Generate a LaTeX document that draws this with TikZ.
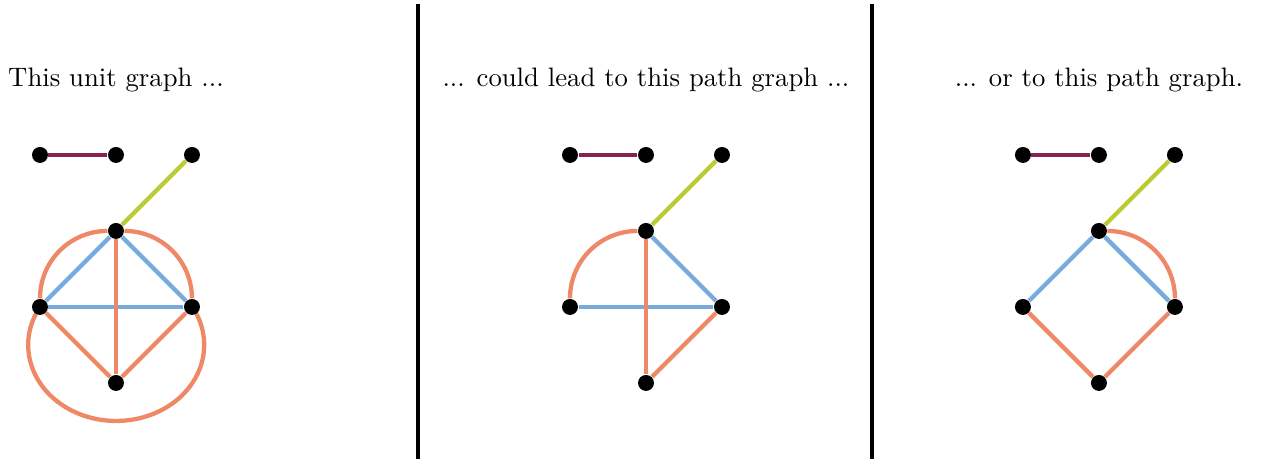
\documentclass[tikz,border=0pt]{standalone}
\usepackage{tikz}
\usetikzlibrary{positioning, calc, backgrounds}
\definecolor{wine}{HTML}{882255}
\definecolor{olive}{HTML}{BBCC33}
\definecolor{skyblue}{HTML}{77AADD}
\definecolor{salmon}{HTML}{EE8866}

\begin{document}
\begin{tikzpicture}[
    dot/.style={circle, fill=black, inner sep=0pt, minimum size=0.21cm},
    edg/.style={ultra thick},
    sep/.style={ultra thick, black},
    lbl/.style={font=\normalsize, inner sep=0pt}
]
\useasboundingbox (0,0) rectangle (16.632,-6.039);

% Sommets des trois graphes
\foreach \p/\dx in {a/0, b/6.974, c/12.934} {
    \node[dot] (\p1) at (0.526+\dx,-2.039) {};
    \node[dot] (\p2) at (1.526+\dx,-2.039) {};
    \node[dot] (\p3) at (2.526+\dx,-2.039) {};
    \node[dot] (\p4) at (1.526+\dx,-3.039) {};
    \node[dot] (\p5) at (0.526+\dx,-4.039) {};
    \node[dot] (\p6) at (2.526+\dx,-4.039) {};
    \node[dot] (\p7) at (1.526+\dx,-5.039) {};
}

% Legendes
\node[lbl] (ta) at (1.526,-1.053)  {This unit graph ...};
\node[lbl] (tb) at (8.500,-1.053)  {... could lead to this path graph ...};
\node[lbl] (tc) at (14.460,-1.053) {... or to this path graph.};

% Separateurs
\coordinate (s1t) at (5.500,-0.053);
\coordinate (s1b) at (5.500,-6.039);
\coordinate (s2t) at (11.474,-0.053);
\coordinate (s2b) at (11.474,-6.039);
\draw[sep] (s1t) -- (s1b);
\draw[sep] (s2t) -- (s2b);

\begin{scope}[on background layer]
% Aretes communes
\foreach \p in {a, b, c} {
    \draw[edg, wine]  (\p1) -- (\p2);
    \draw[edg, olive] (\p3) -- (\p4);
}

% Graphe unite
\foreach \u/\v in {a4/a5, a4/a6, a5/a6}
    \draw[edg, skyblue] (\u) -- (\v);
\foreach \u/\v in {a4/a7, a5/a7, a6/a7}
    \draw[edg, salmon] (\u) -- (\v);
\draw[edg, salmon] (a5) to[out=90, in=180] (a4);
\draw[edg, salmon] (a4) to[out=0, in=90] (a6);
\draw[edg, salmon] (a5.center)
    arc[start angle=150, end angle=390, x radius=1.158, y radius=1.0];

% Premier graphe chemin
\foreach \u/\v in {b4/b6, b5/b6}
    \draw[edg, skyblue] (\u) -- (\v);
\foreach \u/\v in {b4/b7, b6/b7}
    \draw[edg, salmon] (\u) -- (\v);
\draw[edg, salmon] (b5) to[out=90, in=180] (b4);

% Second graphe chemin
\foreach \u/\v in {c4/c5, c4/c6}
    \draw[edg, skyblue] (\u) -- (\v);
\foreach \u/\v in {c5/c7, c6/c7}
    \draw[edg, salmon] (\u) -- (\v);
\draw[edg, salmon] (c4) to[out=0, in=90] (c6);
\end{scope}

\end{tikzpicture}
\end{document}
